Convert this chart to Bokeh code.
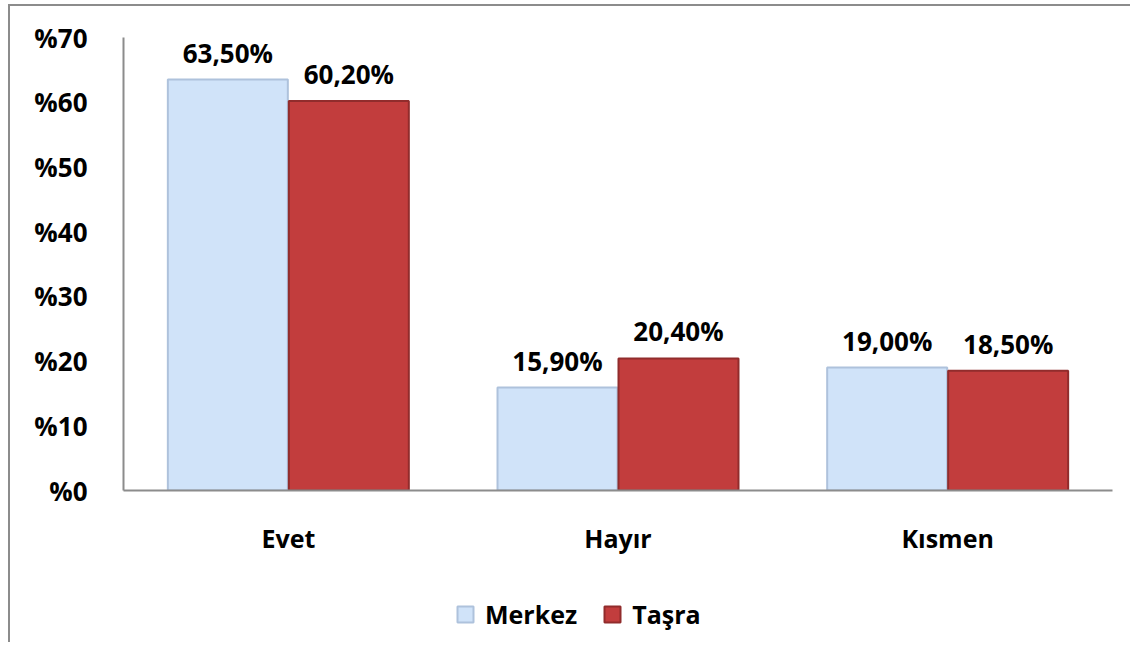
from bokeh.plotting import figure
from bokeh.layouts import column
from bokeh.models import ColumnDataSource, FactorRange, FixedTicker, Legend, LegendItem
from bokeh.transform import dodge
from bokeh.core.properties import value
from bokeh.embed import file_html
from bokeh.resources import INLINE

categories = ["Evet", "Hayır", "Kısmen"]
series_names = ["Merkez", "Taşra"]
merkez = [63.5, 15.9, 19.0]
tasra = [60.2, 20.4, 18.5]
y_ticks = [0, 10, 20, 30, 40, 50, 60, 70]
y_tick_labels = ["%0", "%10", "%20", "%30", "%40", "%50", "%60", "%70"]

MERKEZ_FILL, MERKEZ_LINE = "#d0e3f9", "#aec2dc"
TASRA_FILL, TASRA_LINE = "#c23d3d", "#912c2c"

def fmt(v):
    return ("%.2f" % v).replace(".", ",") + "%"

src = ColumnDataSource(dict(
    cat=categories,
    merkez=merkez,
    tasra=tasra,
    merkez_lbl=[fmt(v) for v in merkez],
    tasra_lbl=[fmt(v) for v in tasra],
))

FONT = "Open Sans"

p = figure(
    x_range=FactorRange(*categories, range_padding=0),
    y_range=(0, 70),
    width=1120, height=576,
    output_backend="svg", toolbar_location=None,
    min_border_left=113, min_border_right=18,
    min_border_top=31, min_border_bottom=92,
)
p.outline_line_color = None
p.grid.visible = False

bw = 0.364
off = 0.1835
p.vbar(x=dodge("cat", -off, range=p.x_range), top="merkez", width=bw, source=src,
       fill_color=MERKEZ_FILL, line_color=MERKEZ_LINE, line_width=2)
p.vbar(x=dodge("cat", off, range=p.x_range), top="tasra", width=bw, source=src,
       fill_color=TASRA_FILL, line_color=TASRA_LINE, line_width=2)

for key, o in (("merkez", -off), ("tasra", off)):
    p.text(x=dodge("cat", o, range=p.x_range), y=key, text=key + "_lbl", source=src,
           text_align="center", text_baseline="alphabetic", y_offset=-27,
           text_font=value(FONT), text_font_style="bold", text_font_size="26px",
           text_color="#000000")

p.yaxis.ticker = FixedTicker(ticks=y_ticks)
p.yaxis.major_label_overrides = {t: l for t, l in zip(y_ticks, y_tick_labels)}
for ax in (p.xaxis, p.yaxis):
    ax.axis_line_color = "#8c8c8c"
    ax.axis_line_width = 2
    ax.major_tick_line_color = None
    ax.minor_tick_line_color = None
    ax.major_label_text_font = FONT
    ax.major_label_text_font_style = "bold"
    ax.major_label_text_color = "#000000"
p.yaxis.major_label_text_font_size = "26px"
p.yaxis.major_label_standoff = 30
p.xaxis.major_label_text_font_size = "25px"
p.xaxis.major_label_standoff = 24

# legend strip below the chart (hidden renderers only supply legend swatches)
p2 = figure(width=1120, height=60, output_backend="svg", toolbar_location=None,
            x_axis_location=None, y_axis_location=None,
            min_border=0, x_range=FactorRange(*categories), y_range=(0, 70))
p2.outline_line_color = None
p2.grid.visible = False
d1 = p2.vbar(x="cat", top="merkez", width=0.3, source=src, visible=False,
             fill_color=MERKEZ_FILL, line_color=MERKEZ_LINE, line_width=2)
d2 = p2.vbar(x="cat", top="tasra", width=0.3, source=src, visible=False,
             fill_color=TASRA_FILL, line_color=TASRA_LINE, line_width=2)

legend = Legend(
    items=[LegendItem(label=series_names[0], renderers=[d1]),
           LegendItem(label=series_names[1], renderers=[d2])],
    orientation="horizontal", location=(332, 11),
    glyph_width=20, glyph_height=20, label_standoff=10, spacing=25,
    padding=0, margin=0, border_line_color=None, background_fill_alpha=0,
    label_text_font=FONT, label_text_font_style="bold", label_text_font_size="25px",
    label_text_color="#000000", click_policy="none",
)
p2.add_layout(legend, "center")

layout = column(p, p2, spacing=0,
                styles={"border-top": "2px solid #8c8c8c", "border-left": "2px solid #8c8c8c",
                        "margin-left": "8px", "margin-top": "4px"})

open("out.html", "w").write(file_html(layout, INLINE))
